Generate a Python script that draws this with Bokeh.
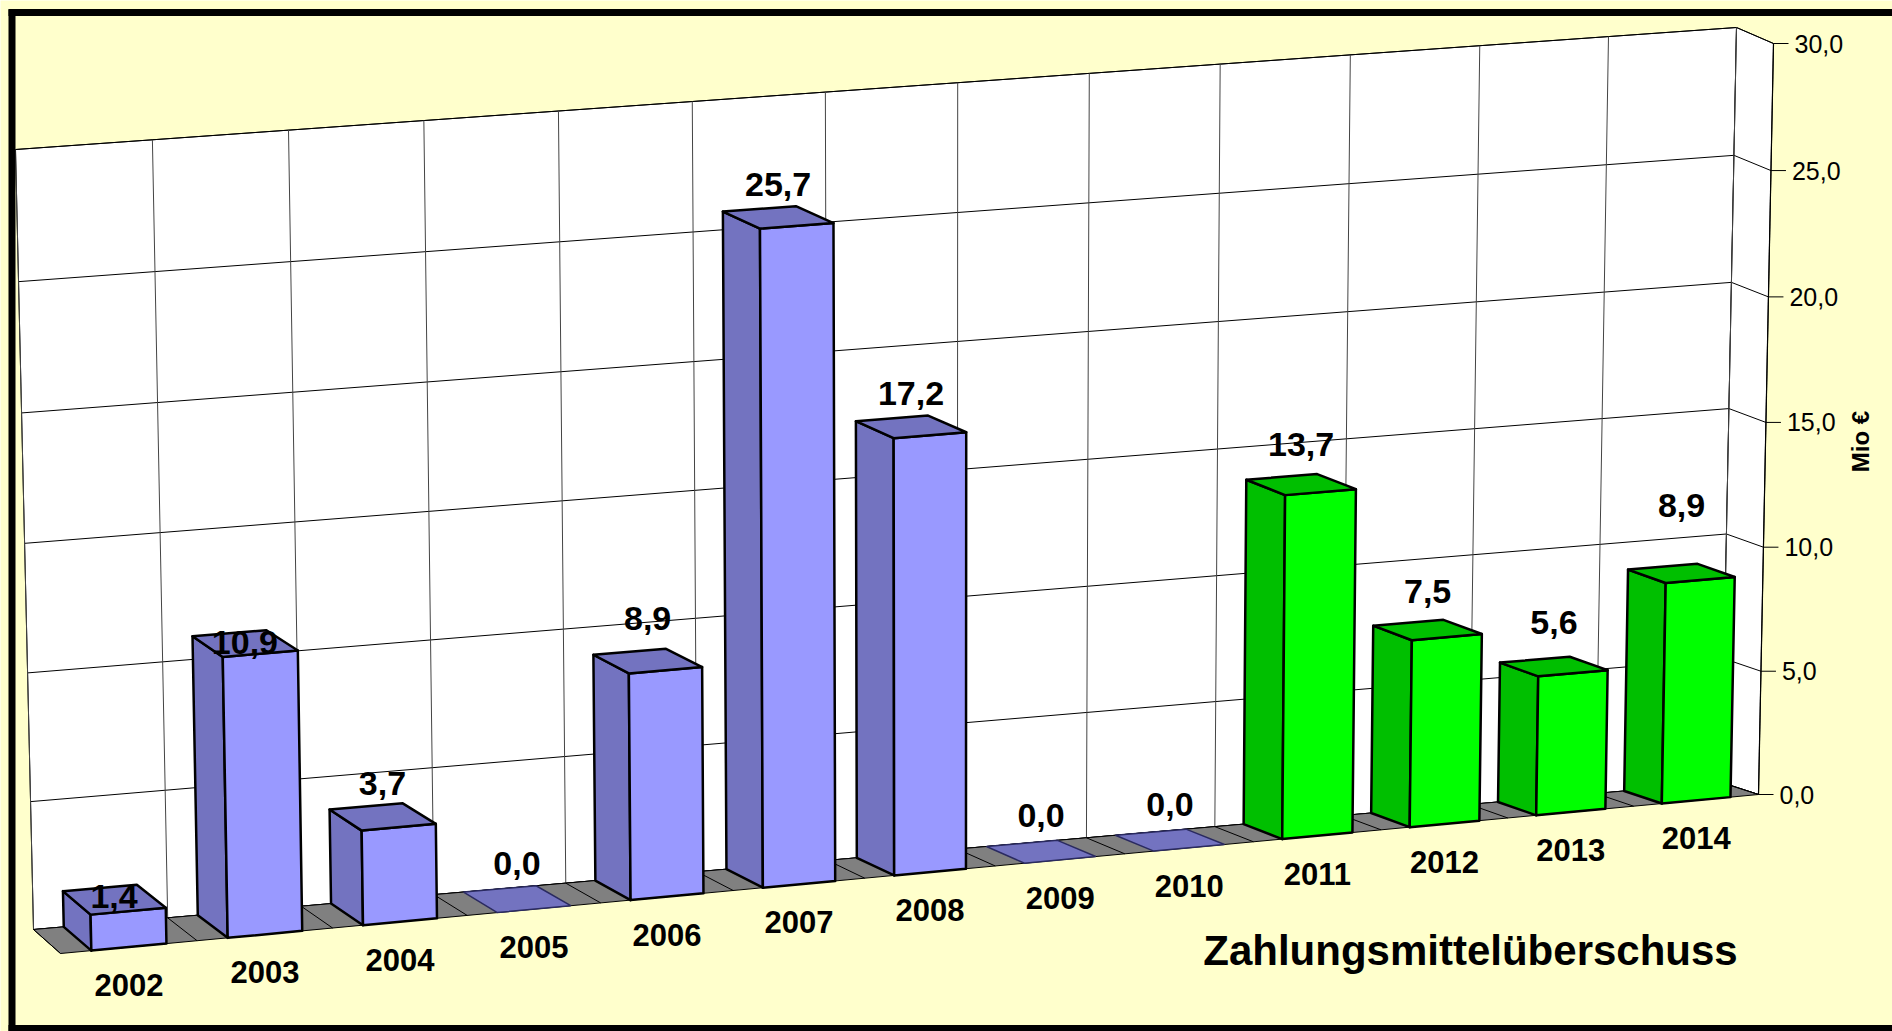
import numpy as np
from bokeh.plotting import figure
from bokeh.models import Range1d
from bokeh.core.properties import value
from bokeh.embed import file_html
from bokeh.resources import INLINE

# ---------------- data ----------------
years = ["2002", "2003", "2004", "2005", "2006", "2007", "2008",
         "2009", "2010", "2011", "2012", "2013", "2014"]
amounts = [1.4, 10.9, 3.7, 0.0, 8.9, 25.7, 17.2, 0.0, 0.0, 13.7, 7.5, 5.6, 8.9]
series = ["ist"] * 9 + ["plan"] * 4
value_ticks = [0, 5, 10, 15, 20, 25, 30]
chart_title = "Zahlungsmittelüberschuss"
axis_title = "Mio €"

# ---------------- style / layout ----------------
FONT = value("Liberation Sans")
BG = "#FFFFCC"
FRONT = {"ist": "#9999FF", "plan": "#00FF00"}
SIDE = {"ist": "#7373C0", "plan": "#00BF00"}
label_lift_px = [3, 1, 33, 36, 43, 33, 33, 36, 36, 40, 38, 44, 68]

N = len(years)
VMAX = float(value_ticks[-1])
W, H = 1892, 1031

# 3D perspective frame: corners of the back (w=1) and front (w=0) planes in page pixels
back_src = [(0, 0), (0, VMAX), (N, VMAX), (N, 0)]
back_dst = [(33, 929), (15, 149), (1736, 27), (1721, 782)]
front_dst = [(60, 953), (43, 167), (1773, 43), (1758, 794)]


def homography(src, dst):
    A, b = [], []
    for (x, y), (X, Y) in zip(src, dst):
        A.append([x, y, 1, 0, 0, 0, -X * x, -X * y]); b.append(X)
        A.append([0, 0, 0, x, y, 1, -Y * x, -Y * y]); b.append(Y)
    h = np.linalg.solve(np.array(A, float), np.array(b, float))
    return np.append(h, 1.0).reshape(3, 3)


HB = homography(back_src, back_dst)
HF = homography(back_src, front_dst)


def apply(Hm, u, v):
    r = Hm @ np.array([u, v, 1.0])
    return r[0] / r[2], r[1] / r[2]


def P(u, v, w):
    fx, fy = apply(HF, u, v)
    bx, by = apply(HB, u, v)
    return (1 - w) * fx + w * bx, (1 - w) * fy + w * by


def poly(pts):
    q = [P(*t) for t in pts]
    return [a for a, _ in q], [b for _, b in q]


p = figure(width=W, height=H, x_range=Range1d(0, W), y_range=Range1d(H, 0),
           output_backend="svg", toolbar_location=None, min_border=0)
p.axis.visible = False
p.grid.visible = False
p.outline_line_color = None
p.background_fill_color = BG
p.border_fill_color = BG

# back wall
xs, ys = poly([(0, 0, 1), (0, VMAX, 1), (N, VMAX, 1), (N, 0, 1)])
p.patch(xs, ys, fill_color="white", line_color="black", line_width=1)
# side wall (right)
xs, ys = poly([(N, 0, 1), (N, VMAX, 1), (N, VMAX, 0), (N, 0, 0)])
p.patch(xs, ys, fill_color="white", line_color="black", line_width=1)

gx, gy = [], []
for t in value_ticks:
    a = poly([(0, t, 1), (N, t, 1), (N, t, 0)])
    gx.append(a[0]); gy.append(a[1])
p.multi_line(gx, gy, line_color="black", line_width=1)
vx, vy = [], []
for i in range(N + 1):
    a = poly([(i, 0, 1), (i, VMAX, 1)])
    vx.append(a[0]); vy.append(a[1])
p.multi_line(vx, vy, line_color="#444444", line_width=1)

# floor
xs, ys = poly([(0, 0, 1), (N, 0, 1), (N, 0, 0), (0, 0, 0)])
p.patch(xs, ys, fill_color="#808080", line_color="black", line_width=1)
fx_, fy_ = [], []
for i in range(N + 1):
    a = poly([(i, 0, 1), (i, 0, 0)])
    fx_.append(a[0]); fy_.append(a[1])
p.multi_line(fx_, fy_, line_color="black", line_width=1)

# value axis ticks + labels (front right edge)
ax_, ay_ = poly([(N, 0, 0), (N, VMAX, 0)])
p.line(ax_, ay_, line_color="black", line_width=1.2)
tx, ty, tl, lx, ly = [], [], [], [], []
for t in value_ticks:
    x0, y0 = P(N, t, 0)
    tx.append([x0, x0 + 15]); ty.append([y0, y0])
    lx.append(x0 + 21); ly.append(y0); tl.append(f"{t:.1f}".replace(".", ","))
p.multi_line(tx, ty, line_color="black", line_width=1)
p.text(lx, ly, text=tl, text_font=FONT, text_font_size="25px", text_align="left",
       text_baseline="middle", text_color="black")

# bars (drawn right to left)
gap = 0.225
for i in reversed(range(N)):
    v = amounts[i]
    u0, u1 = i + gap, i + 1 - gap
    s = series[i]
    if v > 0:
        faces = [
            ([(u0, 0, 1), (u0, 0, 0), (u0, v, 0), (u0, v, 1)], SIDE[s]),
            ([(u0, 0, 0), (u1, 0, 0), (u1, v, 0), (u0, v, 0)], FRONT[s]),
            ([(u0, v, 1), (u1, v, 1), (u1, v, 0), (u0, v, 0)], SIDE[s]),
        ]
        for pts, c in faces:
            xs, ys = poly(pts)
            p.patch(xs, ys, fill_color=c, line_color="black", line_width=2.5, line_join="round")
    else:
        xs, ys = poly([(u0, 0, 1), (u1, 0, 1), (u1, 0, 0), (u0, 0, 0)])
        p.patch(xs, ys, fill_color=SIDE[s], line_color="#2a2a60", line_width=1.5)

# value labels
vlx, vly, vlt = [], [], []
for i in range(N):
    cx, cy = P(i + 0.5, amounts[i], 0.5)
    vlx.append(cx); vly.append(cy - label_lift_px[i])
    vlt.append(f"{amounts[i]:.1f}".replace(".", ","))
p.text(vlx, vly, text=vlt, text_font=FONT, text_font_style="bold", text_font_size="34px",
       text_align="center", text_baseline="middle", text_color="black")

# category labels
clx, cly = [], []
for i in range(N):
    cx, cy = P(i + 0.5, 0, 0)
    clx.append(cx); cly.append(cy + 38)
p.text(clx, cly, text=years, text_font=FONT, text_font_style="bold", text_font_size="31px",
       text_align="center", text_baseline="middle", text_color="black")

# titles
p.text([1470], [950], text=[chart_title], text_font=FONT, text_font_style="bold",
       text_font_size="42px", text_align="center", text_baseline="alphabetic", text_color="black")
p.text([1860], [441], text=[axis_title], text_font=FONT, text_font_style="bold",
       text_font_size="24px", text_align="center", text_baseline="middle", angle=np.pi / 2,
       text_color="black")

# outer frame (left, top, bottom)
p.multi_line([[11.5, 11.5], [8, W], [8, W]], [[9, H], [12, 12], [1028, 1028]],
             line_color="black", line_width=7)

open("out.html", "w").write(file_html(p, INLINE))
